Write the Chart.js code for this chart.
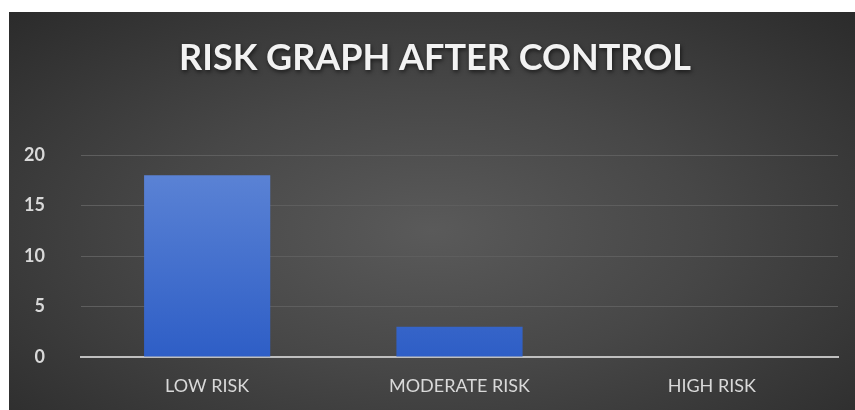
<!DOCTYPE html>
<html>
<head>
<meta charset="utf-8">
<script src="https://cdn.jsdelivr.net/npm/chart.js@4"></script>
<style>
  html, body { margin: 0; padding: 0; background: #ffffff; }
  #wrap {
    position: absolute;
    left: 9px;
    top: 12px;
    width: 846px;
    height: 398px;
    background: radial-gradient(ellipse at 50% 55%, #5a5a5a 0%, #474747 45%, #2b2b2b 100%);
  }
</style>
</head>
<body>
<div id="wrap"><canvas id="myChart"></canvas></div>
<script>
const categories = ['LOW RISK', 'MODERATE RISK', 'HIGH RISK'];
const riskCounts = [18, 3, 0];
const yTicks = [0, 5, 10, 15, 20];
const chartTitle = 'RISK GRAPH AFTER CONTROL';

const fontFamily = 'Lato, "Open Sans", sans-serif';

function barGradient(context) {
    const chart = context.chart;
    const area = chart.chartArea;
    if (!area) return '#4472c4';
    const g = chart.ctx.createLinearGradient(0, area.top, 0, area.bottom);
    g.addColorStop(0, '#5f86d6');
    g.addColorStop(1, '#2e5ec6');
    return g;
}

// le titre est dessiné ici (ombre + centré sur tout le cadre)
const titleShadow = {
    id: 'titleShadow',
    beforeDraw(chart) {
        const t = chart.titleBlock;
        if (!t) return;
        const c = chart.ctx;
        c.save();
        c.shadowColor = 'rgba(0,0,0,0.6)';
        c.shadowBlur = 4;
        c.shadowOffsetX = 1;
        c.shadowOffsetY = 2;
        c.fillStyle = '#f2f2f2';
        c.font = 'bold 36px ' + fontFamily;
        c.textAlign = 'center';
        c.textBaseline = 'middle';
        c.fillText(chartTitle, chart.width / 2 + 3, t.top + 26 + 20);
        c.restore();
    }
};

const ctx = document.getElementById('myChart').getContext('2d');
new Chart(ctx, {
    type: 'bar',
    data: {
        labels: categories,
        datasets: [{
            label: 'Risk',
            data: riskCounts,
            backgroundColor: barGradient,
            borderWidth: 0,
            categoryPercentage: 1,
            barPercentage: 0.5
        }]
    },
    options: {
        responsive: true,
        maintainAspectRatio: false,
        animation: false,
        layout: { padding: { left: 0, right: 17, top: 0, bottom: 0 } },
        plugins: {
            legend: { display: false },
            tooltip: { enabled: false },
            title: {
                display: true,
                text: chartTitle,
                color: 'rgba(0,0,0,0)',
                font: { family: fontFamily, size: 35, weight: 'bold' },
                padding: { top: 26, bottom: 75 }
            }
        },
        scales: {
            x: {
                grid: { display: false, drawTicks: false },
                border: { display: true, color: '#bfbfbf', width: 2 },
                ticks: {
                    color: '#d9d9d9',
                    font: { family: fontFamily, size: 18 },
                    padding: 18
                },
                afterFit: function(scale) { scale.height = 53; }
            },
            y: {
                min: 0,
                max: 20,
                afterBuildTicks: function(scale) {
                    scale.ticks = yTicks.map(v => ({ value: v }));
                },
                grid: { color: '#5e5e5e', lineWidth: 1, drawTicks: false },
                border: { display: false },
                ticks: {
                    color: '#d9d9d9',
                    font: { family: fontFamily, size: 18, weight: 'bold' },
                    padding: 36
                },
                afterFit: function(scale) { scale.width = 72; }
            }
        }
    },
    plugins: [titleShadow]
});
</script>
</body>
</html>
